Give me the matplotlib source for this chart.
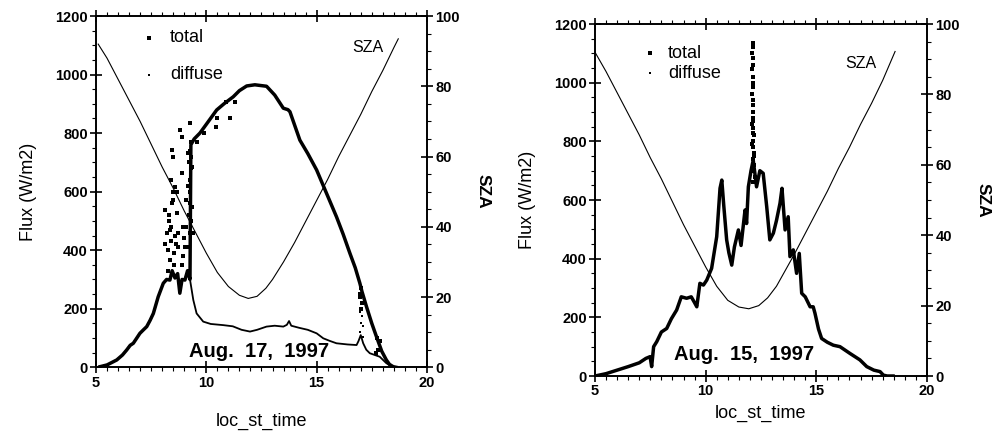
import numpy as np
import matplotlib.pyplot as plt
from matplotlib.ticker import MultipleLocator

plt.rcParams['font.family'] = ['Liberation Sans', 'DejaVu Sans']

# ---- Aug. 17, 1997 (left panel) ----
t_tot17 = [5.18, 5.5, 5.94, 6.2, 6.39, 6.55, 6.69, 6.85, 6.99, 7.15, 7.3, 7.45, 7.6,
           7.82, 8.05, 8.2, 8.35, 8.45, 8.58, 8.7, 8.8, 8.9, 9.03, 9.15, 9.26,
           9.3, 9.45, 9.71, 10.0, 10.47, 10.8, 11.22, 11.5, 11.83, 12.2, 12.73, 13.1,
           13.49, 13.7, 13.79, 14.24, 14.6, 15.0, 15.45, 15.9, 16.2, 16.51, 16.75,
           16.96, 17.05, 17.26, 17.5, 17.71, 17.95, 18.16, 18.3, 18.47, 18.6]
f_tot17 = [2, 8, 25, 42, 59, 75, 82, 100, 116, 128, 139, 160, 184,
           241, 287, 300, 298, 330, 305, 320, 253, 300, 298, 330, 300,
           760, 780, 800, 830, 879, 900, 924, 945, 961, 965, 960, 930,
           885, 880, 873, 776, 730, 674, 594, 514, 455, 389, 340,
           287, 260, 207, 150, 105, 55, 25, 10, 2, 0]

t_dif17 = [5.18, 5.5, 5.94, 6.2, 6.39, 6.55, 6.69, 6.85, 6.99, 7.15, 7.3, 7.45, 7.6,
           7.82, 8.05, 8.2, 8.35, 8.45, 8.58, 8.7, 8.8, 8.9, 9.03, 9.15, 9.26,
           9.41, 9.56, 9.86, 10.2, 10.77, 11.2, 11.6, 11.98, 12.3, 12.73, 13.1, 13.49,
           13.65, 13.75, 13.85, 14.2, 14.6, 15.0, 15.3, 15.6, 15.9, 16.4, 16.81, 16.9,
           17.0, 17.11, 17.25, 17.41, 17.86, 18.16, 18.4, 18.6]
f_dif17 = [2, 8, 25, 42, 59, 75, 82, 100, 116, 128, 139, 160, 184,
           241, 287, 300, 298, 330, 305, 320, 253, 300, 298, 330, 300,
           230, 184, 156, 148, 144, 140, 128, 122, 128, 139, 142, 139,
           145, 158, 142, 135, 128, 116, 99, 90, 82, 78, 76, 90,
           110, 82, 60, 48, 36, 14, 3, 0]

# broken-cloud scatter of total flux
ts_tot17 = [8.13, 8.2, 8.27, 8.35, 8.43, 8.5, 8.5, 8.58, 8.65, 8.73, 8.8, 8.88, 8.88,
            8.96, 9.03, 9.1, 9.18, 9.26, 9.26, 9.34, 9.41, 9.34, 8.35, 8.4, 8.3,
            8.55, 8.62, 8.52, 8.95, 9.1, 9.15, 9.22, 9.3, 9.0, 8.25, 8.45, 8.68,
            9.2, 9.28, 9.32, 9.25, 8.42, 8.47, 8.6, 8.7, 8.33, 9.24, 9.29, 9.27,
            9.22, 9.31, 8.9, 8.15, 8.38,
            9.6, 9.9, 10.45, 10.5, 10.9, 11.07, 11.3,
            16.95, 17.0, 17.05, 17.0, 16.97, 17.75, 17.8, 17.85, 17.7]
fs_tot17 = [537, 458, 401, 366, 742, 720, 571, 617, 526, 458, 810, 788, 663,
            480, 412, 571, 731, 834, 640, 549, 458, 685, 470, 430, 500,
            390, 420, 350, 380, 480, 620, 700, 770, 440, 330, 560, 600,
            520, 600, 680, 460, 640, 600, 450, 410, 520, 740, 720, 560,
            410, 500, 350, 420, 480,
            770, 800, 822, 852, 905, 851, 905,
            250, 270, 220, 200, 240, 100, 60, 90, 50]

ts_dif17 = [16.95, 17.0, 17.05, 16.98, 17.08, 17.12]
fs_dif17 = [190, 150, 175, 120, 140, 105]

t_sza17 = [5.1, 5.5, 6.0, 6.5, 7.0, 7.5, 8.0, 8.5, 9.0, 9.5, 10.0, 10.5, 11.0, 11.5,
           11.9, 12.3, 12.7, 13.0, 13.5, 14.0, 14.5, 15.0, 15.5, 16.0, 16.5, 17.0,
           17.5, 18.0, 18.5, 18.7]
sza17 = [92, 88, 82, 76, 70, 63.5, 57, 51, 44.5, 38.5, 32.5, 27, 23, 20.5,
         19.6, 20.2, 22.5, 25, 30, 35.5, 41.5, 47.5, 53.5, 60, 66, 72,
         78.5, 84.5, 91, 93.5]

# ---- Aug. 15, 1997 (right panel) ----
t_tot15 = [5.0, 5.5, 6.0, 6.5, 7.0, 7.3, 7.49, 7.56, 7.65, 7.79, 8.0, 8.24, 8.45, 8.69,
           8.9, 9.14, 9.35, 9.5, 9.6, 9.74, 9.9, 10.05, 10.27, 10.5, 10.65, 10.73,
           10.82, 10.95, 11.05, 11.18, 11.3, 11.48, 11.6, 11.78, 11.85, 11.93, 12.05,
           12.15, 12.3, 12.45, 12.6, 12.76, 12.9, 13.06, 13.2, 13.36, 13.45, 13.59,
           13.73, 13.81, 13.96, 14.11, 14.23, 14.34, 14.5, 14.72, 14.86, 14.94, 15.1,
           15.24, 15.5, 15.77, 16.07, 16.52, 16.97, 17.28, 17.6, 17.88, 18.03, 18.2,
           18.47]
f_tot15 = [0, 8, 20, 32, 45, 60, 66, 32, 100, 117, 150, 162, 195, 225,
           270, 265, 270, 250, 236, 316, 310, 327, 367, 475, 640, 668,
           580, 464, 420, 378, 440, 498, 445, 566, 520, 645, 700,
           736, 645, 700, 691, 577, 464, 487, 530, 589, 640, 498,
           543, 407, 430, 350, 418, 282, 270, 236, 236, 214, 160,
           128, 115, 105, 100, 77, 55, 32, 20, 15, 3, 0,
           0]

ts_tot15 = [12.12, 12.14, 12.1, 12.15, 12.13, 12.11, 12.16, 12.12, 12.14, 12.1, 12.15,
            12.12, 12.13, 12.16, 12.11, 12.14, 12.17, 12.12, 12.15, 12.18, 12.13, 12.2,
            12.1, 12.22, 12.16, 12.13, 12.15, 12.11, 12.17, 12.14]
fs_tot15 = [1134, 1120, 1100, 1085, 1060, 1045, 1020, 1000, 985, 960, 940,
            925, 900, 880, 860, 845, 820, 800, 780, 760, 740, 720,
            700, 680, 660, 870, 830, 790, 750, 710]

t_sza15 = [5.0, 5.5, 6.0, 6.5, 7.0, 7.5, 8.0, 8.5, 9.0, 9.5, 10.0, 10.5, 11.0, 11.5,
           11.95, 12.4, 12.8, 13.2, 13.6, 14.0, 14.5, 15.0, 15.5, 16.0, 16.5, 17.0,
           17.5, 18.0, 18.56]
sza15 = [92, 86.5, 80.5, 74.5, 68.5, 62, 56, 49.5, 43, 37, 31, 25.5, 21.5, 19.6,
         19.1, 20.0, 22.2, 25.5, 30, 34.5, 40.5, 46.5, 52.5, 59, 65, 71.5,
         77.5, 84, 92.2]

fig = plt.figure(figsize=(10.02, 4.36), dpi=100)


def style_axes(ax, ax2):
    ax.set_xlim(5, 20)
    ax.set_ylim(0, 1200)
    ax2.set_ylim(0, 100)
    ax.xaxis.set_major_locator(MultipleLocator(5))
    ax.xaxis.set_minor_locator(MultipleLocator(0.5))
    ax.yaxis.set_major_locator(MultipleLocator(200))
    ax.yaxis.set_minor_locator(MultipleLocator(50))
    ax2.yaxis.set_major_locator(MultipleLocator(20))
    ax2.yaxis.set_minor_locator(MultipleLocator(5))
    for a in (ax, ax2):
        for s in a.spines.values():
            s.set_linewidth(1.2)
    ax.tick_params(which='major', direction='inout', length=8, width=1.2,
                   top=True, labelsize=10.5, pad=2)
    ax.tick_params(which='minor', direction='out', length=3, width=0.8, top=True)
    ax2.tick_params(which='major', direction='inout', length=8, width=1.2,
                    labelsize=10.5, pad=2)
    ax2.tick_params(which='minor', direction='out', length=3, width=0.8)
    for lab in ax.get_xticklabels() + ax.get_yticklabels() + ax2.get_yticklabels():
        lab.set_fontweight('bold')


def panel(rect, t_tot, f_tot, t_dif, f_dif, ts, fs, tsd, fsd, t_sza, sza,
          date, pos, xpad):
    ax = fig.add_axes(rect)
    ax2 = ax.twinx()
    ax.set_zorder(ax2.get_zorder() + 1)
    ax.patch.set_visible(False)
    ax2.plot(t_sza, sza, color='black', lw=0.8)
    ax.plot(t_tot, f_tot, color='black', lw=2.5, solid_joinstyle='round')
    if t_dif is not None:
        ax.plot(t_dif, f_dif, color='black', lw=1.3)
    ax.plot(ts, fs, 's', color='black', ms=2.5, mew=0)
    if tsd is not None:
        ax.plot(tsd, fsd, 's', color='black', ms=2.0, mew=0)
    style_axes(ax, ax2)
    ax.set_xlabel('loc_st_time', fontsize=13, labelpad=xpad)
    ax.set_ylabel('Flux (W/m2)', fontsize=13, labelpad=13)
    ax2.set_ylabel('SZA', fontsize=12.5, rotation=270, labelpad=22,
                   fontweight='bold')
    # legend and annotations
    (mx, ty, dy, tx), (sx, sy), (dx_, dyy) = pos
    ax.plot([mx], [ty], 's', color='black', ms=2.8, mew=0)
    ax.plot([mx], [dy], 's', color='black', ms=1.7, mew=0)
    ax.text(tx, ty, 'total', fontsize=13, va='center', ha='left')
    ax.text(tx, dy, 'diffuse', fontsize=13, va='center', ha='left')
    ax.text(sx, sy, 'SZA', fontsize=11.5, va='center', ha='left')
    ax.text(dx_, dyy, date, fontsize=14.5, fontweight='bold', va='center',
            ha='center')
    return ax


panel([0.0958, 0.1576, 0.3303, 0.8057], t_tot17, f_tot17, t_dif17, f_dif17,
      ts_tot17, fs_tot17, ts_dif17, fs_dif17, t_sza17, sza17,
      'Aug.  17,  1997',
      ((7.4, 1125, 1000, 8.35), (16.6, 1091), (12.39, 55)), 17)

panel([0.5938, 0.1376, 0.3313, 0.8073], t_tot15, f_tot15, None, None,
      ts_tot15, fs_tot15, None, None, t_sza15, sza15,
      'Aug.  15,  1997',
      ((7.49, 1101, 1033, 8.3), (16.3, 1067), (11.73, 75)), 5)

fig.savefig('out.png', dpi=100)
